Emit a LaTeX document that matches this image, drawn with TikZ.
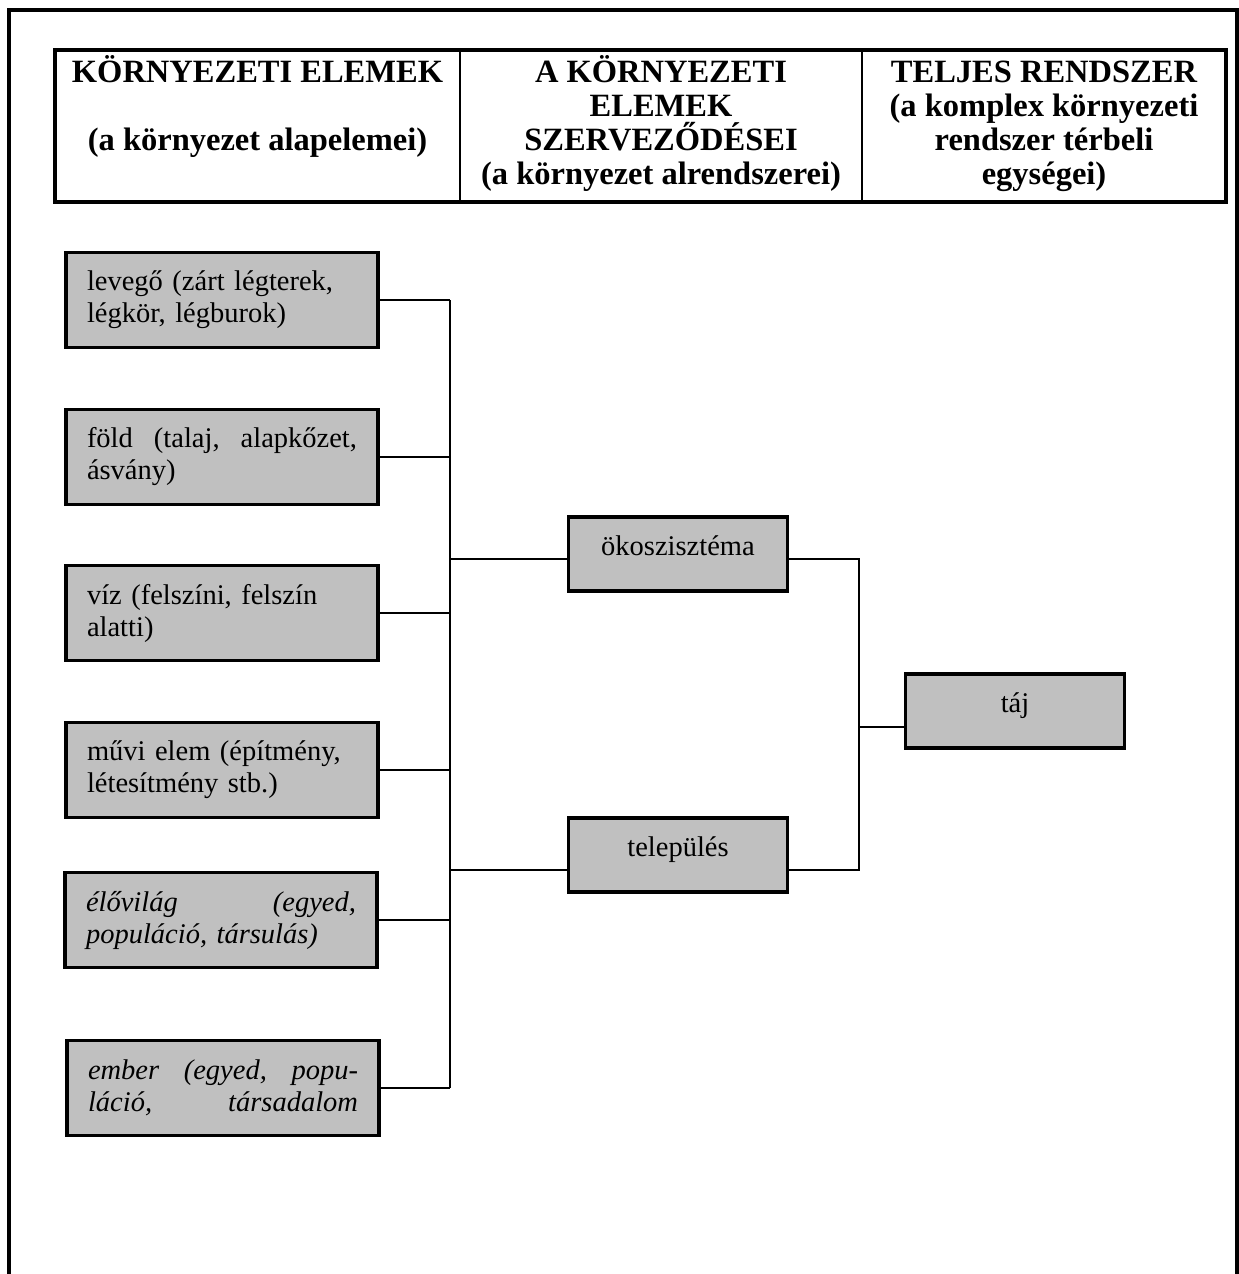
\documentclass[tikz,border=0pt]{standalone}
\usepackage{fontspec}
\setmainfont{Liberation Serif}
\definecolor{boxgray}{RGB}{192,192,192}

\begin{document}
\begin{tikzpicture}[x=1pt,y=-1pt,
    elem/.style={draw, line width=3.5pt, fill=boxgray, text width=270pt, inner xsep=21pt,
        minimum height=95pt, align=left, font=\fontsize{28.5}{32}\selectfont},
    elemit/.style={elem, font=\itshape\fontsize{28.5}{32}\selectfont},
    unit/.style={draw, line width=3.5pt, fill=boxgray, minimum width=219pt, inner sep=0pt,
        text height=38pt, text depth=36pt, font=\fontsize{28.5}{32}\selectfont},
    head/.style={align=center, anchor=north, inner sep=0pt, font=\bfseries\fontsize{32.5}{34}\selectfont},
    conn/.style={line width=2pt}]

    \useasboundingbox (0,0) rectangle (1239,1274);

    % frame and header table
    \draw [line width=3.5pt] (9,1274) -- (9,10) -- (1237,10) -- (1237,1274);
    \draw [line width=3.5pt] (55,50) rectangle (1226,202);
    \draw [line width=1.5pt] (460,50) -- (460,202);
    \draw [line width=1.5pt] (862,50) -- (862,202);

    \node [head] (h1) at (257.5,52) {\rule{0pt}{30pt}KÖRNYEZETI ELEMEK\\[34pt](a környezet alapelemei)};
    \node [head] (h2) at (661,52) {\rule{0pt}{30pt}A KÖRNYEZETI\\ ELEMEK\\ SZERVEZŐDÉSEI\\ (a környezet alrendszerei)};
    \node [head] (h3) at (1044,52) {\rule{0pt}{30pt}TELJES RENDSZER\\ (a komplex környezeti\\ rendszer térbeli\\ egységei)};

    % elements
    \node [elem] (levego) at (222,300) {levegő (zárt légterek,\\ légkör, légburok)};
    \node [elem] (fold) at (222,457) {föld\hfill(talaj,\hfill alapkőzet,\\ ásvány)};
    \node [elem] (viz) at (222,613) {víz (felszíni, felszín\\ alatti)};
    \node [elem] (muvi) at (222,770) {művi elem (építmény,\\ létesítmény stb.)};
    \node [elemit] (elo) at (221,920) {élővilág\hfill(egyed,\\ populáció, társulás)};
    \node [elemit] (ember) at (223,1088) {ember\hfill(egyed,\hfill popu-\\ láció,\hfill társadalom};

    % subsystems and the whole
    \node [unit] (oko) at (678,554) {ökoszisztéma};
    \node [unit] (telep) at (678,855) {település};
    \node [unit] (taj) at (1015,711) {táj};

    \coordinate (bus1) at (450,0);
    \coordinate (bus2) at (859,0);
    \coordinate (okoin) at ([yshift=-5pt]oko.west);
    \coordinate (okoout) at ([yshift=-5pt]oko.east);
    \coordinate (telepin) at ([yshift=-15pt]telep.west);
    \coordinate (telepout) at ([yshift=-15pt]telep.east);
    \coordinate (tajin) at ([yshift=-16pt]taj.west);

    % connectors
    \draw [conn] (levego.east) -- (levego.east -| bus1);
    \draw [conn] (fold.east) -- (fold.east -| bus1);
    \draw [conn] (viz.east) -- (viz.east -| bus1);
    \draw [conn] (muvi.east) -- (muvi.east -| bus1);
    \draw [conn] (elo.east) -- (elo.east -| bus1);
    \draw [conn] (ember.east) -- (ember.east -| bus1);
    \draw [conn] (levego.east -| bus1) -- (ember.east -| bus1);
    \draw [conn] (okoin -| bus1) -- (okoin);
    \draw [conn] (telepin -| bus1) -- (telepin);

    \draw [conn] (okoout) -- (okoout -| bus2) -- (telepout -| bus2) -- (telepout);
    \draw [conn] (tajin -| bus2) -- (tajin);

\end{tikzpicture}
\end{document}
